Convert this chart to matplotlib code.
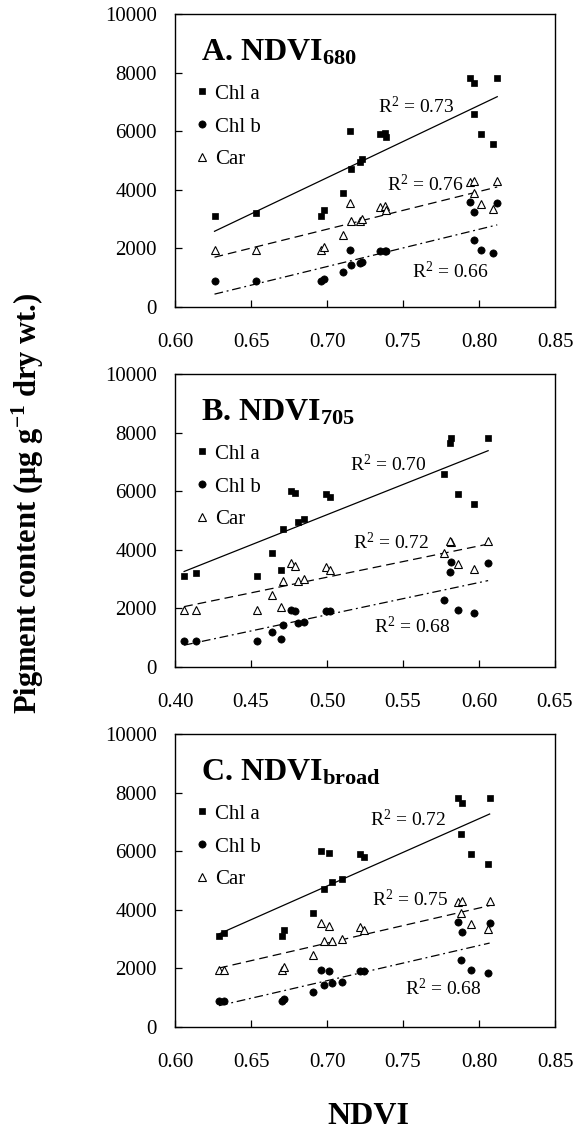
import numpy as np
import matplotlib
matplotlib.use("Agg")
import matplotlib.pyplot as plt
from matplotlib.lines import Line2D

plt.rcParams['font.family'] = 'Liberation Serif'
plt.rcParams['mathtext.fontset'] = 'custom'
plt.rcParams['mathtext.rm'] = 'Liberation Serif'
plt.rcParams['mathtext.it'] = 'Liberation Serif:italic'
plt.rcParams['mathtext.bf'] = 'Liberation Serif:bold'

# pigment contents per sample (same samples in every panel)
chl_a = [3100, 3200, 3100, 3300, 3900, 6000, 4700, 4950, 5050, 5900, 5950, 5800,
         7800, 7650, 6600, 5900, 5550, 7800]
chl_b = [900, 900, 900, 950, 1200, 1950, 1450, 1500, 1550, 1900, 1900, 1900,
         3600, 3250, 2300, 1950, 1850, 3550]
car = [1950, 1950, 1950, 2050, 2450, 3550, 2950, 2950, 3000, 3400, 3450, 3300,
       4250, 4300, 3900, 3500, 3350, 4300]

# index values per sample
ndvi_680 = [0.626, 0.653, 0.696, 0.698, 0.7105, 0.715, 0.716, 0.7215, 0.723, 0.735,
            0.738, 0.739, 0.794, 0.797, 0.797, 0.8016, 0.8093, 0.812]
ndvi_705 = [0.406, 0.414, 0.454, 0.470, 0.464, 0.4765, 0.471, 0.481, 0.485, 0.4995,
            0.479, 0.502, 0.5815, 0.581, 0.577, 0.586, 0.597, 0.606]
ndvi_broad = [0.629, 0.632, 0.6705, 0.672, 0.691, 0.696, 0.698, 0.7035, 0.710, 0.722,
              0.701, 0.7246, 0.786, 0.789, 0.788, 0.795, 0.806, 0.807]

panel_titles = [r'A. NDVI$_{\mathbf{680}}$', r'B. NDVI$_{\mathbf{705}}$',
                r'C. NDVI$_{\mathbf{broad}}$']
x_ranges = [(0.60, 0.85), (0.40, 0.65), (0.60, 0.85)]
series_names = ['Chl a', 'Chl b', 'Car']

# R2 labels and where they sit (data coords)
r2_labels = [['0.73', '0.66', '0.76'], ['0.70', '0.68', '0.72'], ['0.72', '0.68', '0.75']]
r2_pos = [[(0.7337, 6826), (0.7558, 1210), (0.7397, 4167)],
          [(0.5153, 6920), (0.5306, 1386), (0.5174, 4261)],
          [(0.7285, 7066), (0.7513, 1331), (0.7294, 4365)]]

W, H = 574, 1141
fig = plt.figure(figsize=(W / 100, H / 100), dpi=100)

ax_left = 175 / W
ax_w = 380 / W
ax_h = 293 / H
bottoms_px = [307, 667, 1027]

styles = [
    dict(marker='s', ms=5, mfc='black', mec='black', mew=0.5),
    dict(marker='o', ms=5.2, mfc='black', mec='black', mew=0.5),
    dict(marker='^', ms=6, mfc='white', mec='black', mew=0.8),
]
# Chl a solid, Chl b dash-dot, Car dashed
line_styles = ['-', (0, (7, 3, 1.5, 3)), (0, (7, 4))]

for p, xs in enumerate([ndvi_680, ndvi_705, ndvi_broad]):
    ax = fig.add_axes([ax_left, 1 - bottoms_px[p] / H, ax_w, ax_h])
    x = np.array(xs)
    for s, ys in enumerate([chl_a, chl_b, car]):
        y = np.array(ys)
        ax.plot(x, y, ls='none', zorder=3, **styles[s])
        k, b = np.polyfit(x, y, 1)
        xx = np.array([x.min(), x.max()])
        ax.plot(xx, k * xx + b, color='black', lw=0.9, ls=line_styles[s], zorder=2)
        tx, ty = r2_pos[p][s]
        ax.text(tx, ty, 'R$^2$ = ' + r2_labels[p][s], fontsize=14, va='center', ha='left')

    ax.set_xlim(*x_ranges[p])
    ax.set_ylim(0, 10000)
    ax.set_xticks(np.arange(x_ranges[p][0], x_ranges[p][1] + 0.001, 0.05))
    ax.xaxis.set_major_formatter(matplotlib.ticker.FormatStrFormatter('%.2f'))
    ax.set_yticks(range(0, 10001, 2000))
    ax.tick_params(direction='in', length=5, width=0.9, labelsize=15)
    ax.tick_params(axis='x', pad=19)
    ax.tick_params(axis='y', pad=13)
    for sp in ax.spines.values():
        sp.set_linewidth(1.0)

    ax.text(0.068, 0.843, panel_titles[p], transform=ax.transAxes, fontsize=23,
            fontweight='bold', va='baseline', ha='left')

    handles = [Line2D([], [], ls='none', **styles[s]) for s in range(3)]
    ax.legend(handles, series_names, loc='upper left', bbox_to_anchor=(0.049, 0.761),
              frameon=False, fontsize=15, handlelength=0.8, handletextpad=0.25,
              borderpad=0, borderaxespad=0, labelspacing=0.64)

fig.text(28 / W, 1 - 503 / H, r'Pigment content ($\mathbf{\mu}$g g$^{\mathbf{-1}}$ dry wt.)',
         rotation=90, fontsize=22, fontweight='bold', ha='center', va='center')
fig.text(368 / W, 1 - 1117 / H, 'NDVI', fontsize=23, fontweight='bold',
         ha='center', va='center')

fig.savefig('out.png', dpi=100)
